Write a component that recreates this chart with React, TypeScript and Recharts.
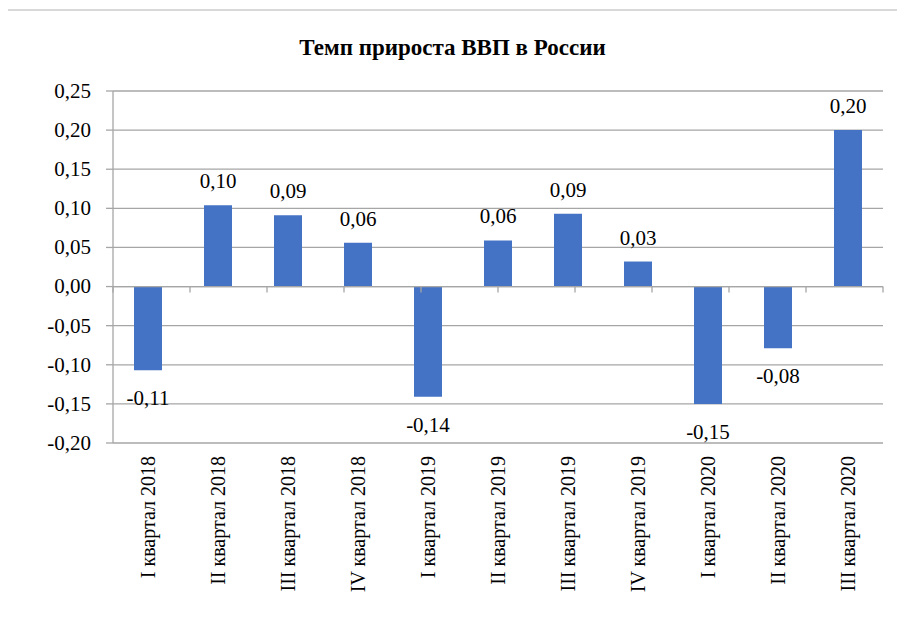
import {
  Bar,
  BarChart,
  CartesianGrid,
  LabelList,
  ReferenceLine,
  XAxis,
  YAxis,
} from "recharts";

const categories = [
  "I квартал 2018",
  "II квартал 2018",
  "III квартал 2018",
  "IV квартал 2018",
  "I квартал 2019",
  "II квартал 2019",
  "III квартал 2019",
  "IV квартал 2019",
  "I квартал 2020",
  "II квартал 2020",
  "III квартал 2020",
];

const growth = [-0.107, 0.104, 0.091, 0.056, -0.141, 0.059, 0.093, 0.032, -0.15, -0.079, 0.2];

const yTicks = [-0.2, -0.15, -0.1, -0.05, 0, 0.05, 0.1, 0.15, 0.2, 0.25];

const FONT = '"Liberation Serif", "Times New Roman", serif';

const fmt = (v: number) => v.toFixed(2).replace(".", ",");

function QuarterTick({ x, y, payload }: any) {
  const ty = y + 5;
  return (
    <text
      x={x}
      y={ty}
      transform={`rotate(-90, ${x}, ${ty})`}
      textAnchor="end"
      dy="0.35em"
      style={{ fontFamily: FONT, fontSize: 20 }}
      fill="#000"
    >
      {payload.value}
    </text>
  );
}

function ValueTick({ x, y, payload }: any) {
  return (
    <text
      x={x}
      y={y}
      textAnchor="end"
      dy="0.33em"
      style={{ fontFamily: FONT, fontSize: 21 }}
      fill="#000"
    >
      {fmt(payload.value)}
    </text>
  );
}

function ValueLabel({ x, y, width, height, value }: any) {
  const top = Math.min(y, y + height);
  const bottom = Math.max(y, y + height);
  const cx = x + width / 2;
  const ty = value >= 0 ? top - 17 : bottom + 35;
  return (
    <text
      x={cx}
      y={ty}
      textAnchor="middle"
      style={{ fontFamily: FONT, fontSize: 21 }}
      fill="#000"
    >
      {fmt(value)}
    </text>
  );
}

export default function App() {
  const data = categories.map((c, i) => ({ name: c, value: growth[i] }));
  const boundaries = categories.map((_, i) => i).concat(categories.length);
  return (
    <div
      style={{
        position: "relative",
        width: 905,
        height: 641,
        margin: -8,
        overflow: "hidden",
        background: "#fff",
      }}
    >
      <div
        style={{
          position: "absolute",
          left: 6,
          top: 9,
          width: 950,
          height: 700,
          border: "2px solid #d9d9d9",
        }}
      />
      <div
        style={{
          position: "absolute",
          left: 0,
          width: 905,
          top: 34,
          textAlign: "center",
          fontFamily: FONT,
          fontWeight: "bold",
          fontSize: 23,
          lineHeight: "28px",
          color: "#000",
        }}
      >
        Темп прироста ВВП в России
      </div>
      <div style={{ position: "absolute", left: 0, top: 0 }}>
        <BarChart
          width={905}
          height={641}
          data={data}
          margin={{ top: 91, right: 22, left: 0, bottom: 0 }}
          barSize={28}
        >
          <CartesianGrid vertical={false} stroke="#a6a6a6" strokeWidth={1.3} />
          <XAxis
            dataKey="name"
            height={198}
            axisLine={false}
            tickLine={false}
            interval={0}
            tick={<QuarterTick />}
          />
          <XAxis xAxisId="n" type="number" domain={[0, categories.length]} hide />
          <YAxis
            width={113}
            domain={[-0.2, 0.25]}
            ticks={yTicks}
            allowDataOverflow
            stroke="#a6a6a6"
            strokeWidth={1.3}
            tickSize={7}
            tickMargin={15}
            tick={<ValueTick />}
          />
          <ReferenceLine y={0} stroke="#a6a6a6" strokeWidth={1.3} />
          {boundaries.map((b) => (
            <ReferenceLine
              key={b}
              xAxisId="n"
              segment={[
                { x: b, y: 0 },
                { x: b, y: -0.0077 },
              ]}
              stroke="#a6a6a6"
              strokeWidth={1.3}
            />
          ))}
          <Bar dataKey="value" fill="#4472c4" isAnimationActive={false}>
            <LabelList dataKey="value" content={<ValueLabel />} />
          </Bar>
        </BarChart>
      </div>
    </div>
  );
}
